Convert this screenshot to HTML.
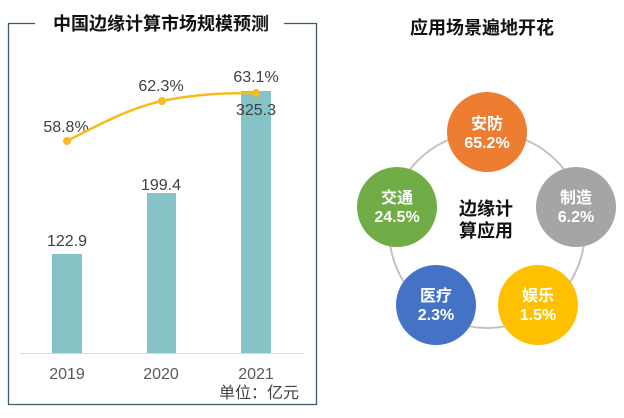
<!DOCTYPE html>
<html><head><meta charset="utf-8"><style>
html,body{margin:0;padding:0;background:#fff;}
svg{display:block;}
</style></head><body>
<svg width="624" height="418" viewBox="0 0 624 418" xmlns="http://www.w3.org/2000/svg" font-family="Liberation Sans, Noto Sans CJK SC, sans-serif">
<rect width="624" height="418" fill="#fff"/>
<!-- left frame -->
<path d="M35 23.5 H8.5 V404.5 H316.5 V23.5 H284" fill="none" stroke="#3e5c68" stroke-width="1.3"/>
<text x="161" y="30" text-anchor="middle" font-size="18" font-weight="bold" fill="#111" font-family="Liberation Sans, Noto Sans CJK SC, sans-serif">中国边缘计算市场规模预测</text>
<!-- bars -->
<rect x="52" y="254" width="30" height="99" fill="#85c3c6"/>
<rect x="147" y="193" width="29" height="160" fill="#85c3c6"/>
<rect x="241" y="91" width="30" height="262" fill="#85c3c6"/>
<line x1="20" y1="353.5" x2="304" y2="353.5" stroke="#d9d9d9" stroke-width="1"/>
<g font-size="16" fill="#404040" text-anchor="middle">
<text x="67" y="246">122.9</text>
<text x="161" y="190">199.4</text>
<text x="256" y="115">325.3</text>
<text x="66" y="132">58.8%</text>
<text x="161" y="91">62.3%</text>
<text x="256" y="82">63.1%</text>
</g>
<g font-size="16" fill="#595959" text-anchor="middle">
<text x="67" y="379">2019</text>
<text x="161" y="379">2020</text>
<text x="256" y="379">2021</text>
</g>
<text x="259" y="398" text-anchor="middle" font-size="16" fill="#404040">单位：亿元</text>
<!-- line -->
<path d="M67 141 C100 124 130 108 162 101 C195 94 225 93 256 93" fill="none" stroke="#f5bb1f" stroke-width="2.5"/>
<circle cx="67" cy="141" r="4" fill="#f5bb1f"/>
<circle cx="162" cy="101" r="4" fill="#f5bb1f"/>
<circle cx="256" cy="93" r="4" fill="#f5bb1f"/>
<!-- right -->
<text x="482" y="34" text-anchor="middle" font-size="18" font-weight="bold" fill="#111">应用场景遍地开花</text>
<circle cx="487" cy="230" r="98" fill="none" stroke="#bfc3c9" stroke-width="2"/>
<circle cx="487" cy="132" r="40" fill="#ed7d31"/>
<circle cx="397" cy="207" r="40" fill="#70ad47"/>
<circle cx="576" cy="207" r="40" fill="#a5a5a5"/>
<circle cx="436" cy="305" r="40" fill="#4472c4"/>
<circle cx="538" cy="305" r="40" fill="#ffc000"/>
<g font-size="16" font-weight="bold" fill="#fff" text-anchor="middle">
<text x="487" y="129">安防</text><text x="487" y="148">65.2%</text>
<text x="397" y="203">交通</text><text x="397" y="222">24.5%</text>
<text x="576" y="203">制造</text><text x="576" y="222">6.2%</text>
<text x="436" y="301">医疗</text><text x="436" y="320">2.3%</text>
<text x="538" y="301">娱乐</text><text x="538" y="320">1.5%</text>
</g>
<g font-size="18" font-weight="bold" fill="#111" text-anchor="middle">
<text x="486" y="215">边缘计</text>
<text x="486" y="237">算应用</text>
</g>
</svg>
</body></html>
